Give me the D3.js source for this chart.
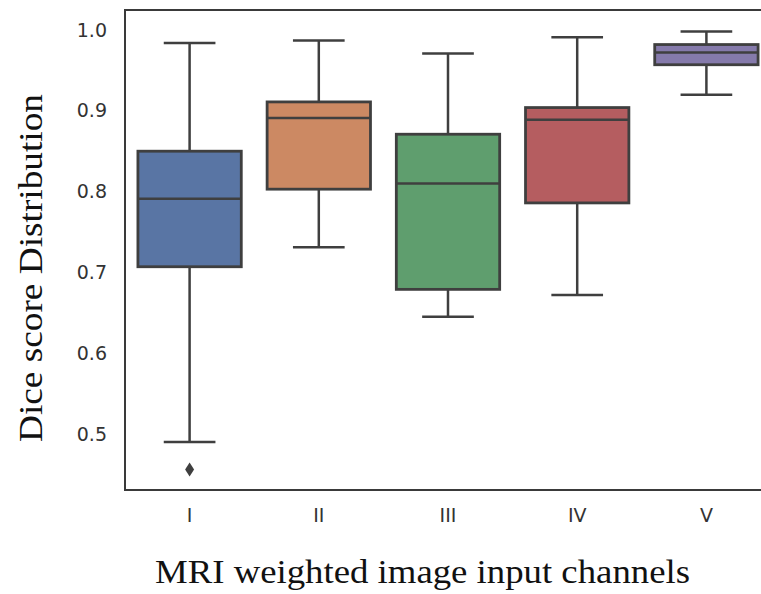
<!DOCTYPE html>
<meta charset="utf-8">
<head>
<script src="https://d3js.org/d3.v7.min.js"></script>
<style>
body { margin: 0; background: #fff; }
</style>
</head>
<body>
<svg id="chart"></svg>
<script>
// values
var channels = ["I", "II", "III", "IV", "V"];
var whiskerLow  = [0.490, 0.731, 0.645, 0.672, 0.920];
var q1          = [0.707, 0.803, 0.679, 0.786, 0.957];
var medians     = [0.791, 0.891, 0.810, 0.889, 0.972];
var q3          = [0.850, 0.911, 0.871, 0.904, 0.982];
var whiskerHigh = [0.984, 0.987, 0.971, 0.991, 0.998];
var outliers    = [[0.456], [], [], [], []];
var yTicks      = [0.5, 0.6, 0.7, 0.8, 0.9, 1.0];
var boxColors   = ["#5975a4", "#cc8963", "#5f9e6e", "#b55d60", "#857aab"];

var width = 761, height = 594;
var plotLeft = 125, plotRight = 771, plotTop = 10, plotBottom = 490;
var lineColor = "#3f3f3f";

var svg = d3.select("#chart").attr("width", width).attr("height", height);

var x = d3.scaleBand().domain(channels).range([plotLeft, plotRight])
          .paddingInner(0.2).paddingOuter(0.1);
var y = d3.scaleLinear().domain([0.43069, 1.02475]).range([plotBottom, plotTop]);

var rows = channels.map(function(c, i) {
    return {name: c, lo: whiskerLow[i], q1: q1[i], med: medians[i], q3: q3[i],
            hi: whiskerHigh[i], out: outliers[i], color: boxColors[i]};
});

// axes
svg.append("g")
   .attr("transform", "translate(" + plotLeft + ",0)")
   .call(d3.axisLeft(y).tickValues(yTicks).tickFormat(d3.format(".1f"))
           .tickSize(0).tickPadding(18))
   .call(function(g) { g.select(".domain").remove(); })
   .selectAll("text")
   .attr("fill", "#333").style("font-family", "DejaVu Sans").style("font-size", "19px");

svg.append("g")
   .attr("transform", "translate(0," + plotBottom + ")")
   .call(d3.axisBottom(x).tickSize(0).tickPadding(19))
   .call(function(g) { g.select(".domain").remove(); })
   .selectAll("text")
   .attr("fill", "#333").style("font-family", "DejaVu Sans").style("font-size", "19px");

var g = svg.selectAll(".box").data(rows).enter().append("g").attr("class", "box");
var bw = x.bandwidth();

// whiskers
g.append("line")
 .attr("x1", d => x(d.name) + bw / 2).attr("x2", d => x(d.name) + bw / 2)
 .attr("y1", d => y(d.hi)).attr("y2", d => y(d.q3))
 .attr("stroke", lineColor).attr("stroke-width", 2.5);
g.append("line")
 .attr("x1", d => x(d.name) + bw / 2).attr("x2", d => x(d.name) + bw / 2)
 .attr("y1", d => y(d.q1)).attr("y2", d => y(d.lo))
 .attr("stroke", lineColor).attr("stroke-width", 2.5);
// caps
["hi", "lo"].forEach(function(k) {
    g.append("line")
     .attr("x1", d => x(d.name) + bw / 4).attr("x2", d => x(d.name) + bw * 3 / 4)
     .attr("y1", d => y(d[k])).attr("y2", d => y(d[k]))
     .attr("stroke", lineColor).attr("stroke-width", 2.5);
});
// boxes
g.append("rect")
 .attr("x", d => x(d.name)).attr("width", bw)
 .attr("y", d => y(d.q3)).attr("height", d => y(d.q1) - y(d.q3))
 .attr("fill", d => d.color).attr("stroke", lineColor).attr("stroke-width", 2.8);
// medians
g.append("line")
 .attr("x1", d => x(d.name)).attr("x2", d => x(d.name) + bw)
 .attr("y1", d => y(d.med)).attr("y2", d => y(d.med))
 .attr("stroke", lineColor).attr("stroke-width", 2.5);
// outliers
g.selectAll(".flier").data(d => d.out.map(v => ({name: d.name, v: v})))
 .enter().append("path").attr("class", "flier")
 .attr("d", d => {
     var cx = x(d.name) + bw / 2, cy = y(d.v);
     return "M" + cx + "," + (cy - 7) + "L" + (cx + 4.5) + "," + cy +
            "L" + cx + "," + (cy + 7) + "L" + (cx - 4.5) + "," + cy + "Z";
 })
 .attr("fill", lineColor);

// frame
svg.append("rect")
   .attr("x", plotLeft).attr("y", plotTop)
   .attr("width", plotRight - plotLeft).attr("height", plotBottom - plotTop)
   .attr("fill", "none").attr("stroke", "#3a3a3a").attr("stroke-width", 2);

// axis titles
svg.append("text")
   .attr("x", 422.5).attr("y", 583)
   .attr("text-anchor", "middle")
   .attr("textLength", 535).attr("lengthAdjust", "spacingAndGlyphs")
   .style("font-family", "Liberation Serif").style("font-size", "33px")
   .attr("fill", "#111")
   .text("MRI weighted image input channels");

svg.append("text")
   .attr("transform", "translate(42,268) rotate(-90)")
   .attr("text-anchor", "middle")
   .attr("textLength", 348).attr("lengthAdjust", "spacingAndGlyphs")
   .style("font-family", "Liberation Serif").style("font-size", "33px")
   .attr("fill", "#111")
   .text("Dice score Distribution");
</script>
</body>
